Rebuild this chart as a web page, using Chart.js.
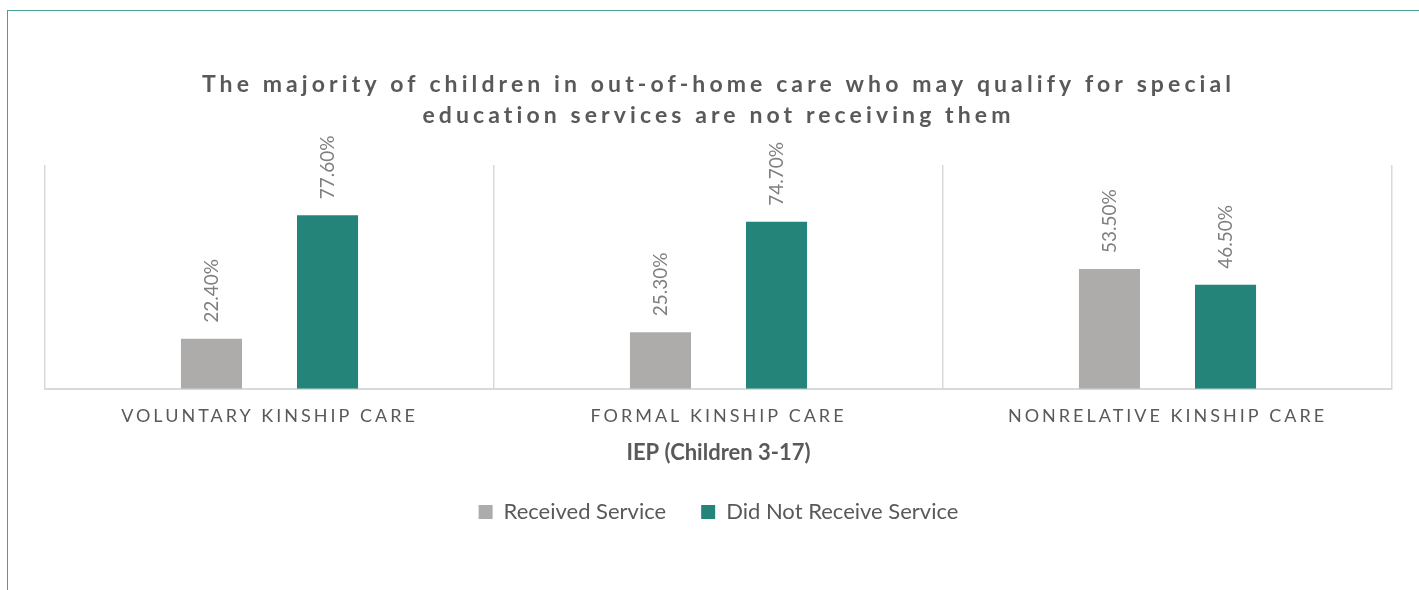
<!DOCTYPE html>
<html>
<head>
<meta charset="utf-8">
<title>IEP (Children 3-17)</title>
<script src="https://cdn.jsdelivr.net/npm/chart.js@4.4.1/dist/chart.umd.min.js"></script>
<style>
  html, body { margin: 0; padding: 0; background: #fff; overflow: hidden; }
  #frame {
    position: absolute; left: 7px; top: 10px; right: -20px; bottom: -20px;
    border-left: 1px solid #45a095; border-top: 1px solid #45a095;
  }
  #salesChart { position: absolute; left: 0; top: 0; }
</style>
</head>
<body>
<div id="frame"></div>
<canvas id="salesChart" width="1419" height="590"></canvas>
<script>
// categories and series
var categories = ['VOLUNTARY KINSHIP CARE', 'FORMAL KINSHIP CARE', 'NONRELATIVE KINSHIP CARE'];
var receivedService = [22.4, 25.3, 53.5];
var didNotReceive = [77.6, 74.7, 46.5];

Chart.defaults.font.family = 'Lato, "Open Sans", sans-serif';
Chart.defaults.color = '#595959';

// Excel-style spaced lettering for the title and the category labels
var letterSpacing = {
    id: 'letterSpacing',
    beforeDraw: function (chart) {
        if (chart.$spaced) return;
        chart.$spaced = true;
        var ctx = chart.ctx;
        var wrap = function (obj, name, px) {
            var fn = obj[name];
            obj[name] = function () {
                ctx.save();
                ctx.letterSpacing = px;
                fn.apply(this, arguments);
                ctx.restore();
            };
        };
        wrap(chart.titleBlock, 'draw', '4.1px');
        wrap(chart.scales.x, 'drawLabels', '3px');
    }
};

// rotated value labels above each bar
var valueLabels = {
    id: 'valueLabels',
    afterDatasetsDraw: function (chart) {
        var ctx = chart.ctx;
        ctx.save();
        ctx.font = '19px Lato, "Open Sans", sans-serif';
        ctx.fillStyle = '#7F7F7F';
        ctx.textAlign = 'left';
        ctx.textBaseline = 'middle';
        chart.data.datasets.forEach(function (ds, i) {
            chart.getDatasetMeta(i).data.forEach(function (bar, j) {
                ctx.save();
                ctx.translate(bar.x, bar.y - 16);
                ctx.rotate(-Math.PI / 2);
                ctx.fillText(ds.data[j].toFixed(2) + '%', 0, 0);
                ctx.restore();
            });
        });
        ctx.restore();
    }
};

var canvas = document.getElementById('salesChart');
var ctx = canvas.getContext('2d');
window.salesChartInstance = new Chart(ctx, {
    type: 'bar',
    data: {
        labels: categories,
        datasets: [{
            label: 'Received Service',
            data: receivedService,
            backgroundColor: '#ADACAB'
        }, {
            label: 'Did Not Receive Service',
            data: didNotReceive,
            backgroundColor: '#25847A'
        }]
    },
    options: {
        responsive: false,
        animation: false,
        categoryPercentage: 0.517,
        barPercentage: 0.526,
        layout: { padding: { left: 45, right: 27, top: 0, bottom: 57 } },
        plugins: {
            title: {
                display: true,
                text: ['The majority of children in out-of-home care who may qualify for special',
                       'education services are not receiving them'],
                color: '#595959',
                font: { size: 23, weight: 'bold', lineHeight: 1.35 },
                padding: { top: 69.5, bottom: 33.5 }
            },
            legend: {
                position: 'bottom',
                labels: {
                    boxWidth: 14,
                    boxHeight: 14,
                    padding: 35,
                    color: '#595959',
                    font: { size: 22 }
                }
            },
            tooltip: { enabled: false }
        },
        scales: {
            x: {
                grid: { color: '#D9D9D9', lineWidth: 1.5, drawTicks: false },
                border: { color: '#D9D9D9', width: 2 },
                ticks: { color: '#595959', font: { size: 18 }, padding: 17 },
                title: {
                    display: true,
                    text: 'IEP (Children 3-17)',
                    color: '#595959',
                    font: { size: 22, weight: 'bold', lineHeight: 1.2 },
                    padding: { top: -4.8, bottom: 0 }
                }
            },
            y: { display: false, min: 0, max: 100 }
        }
    },
    plugins: [letterSpacing, valueLabels]
});
</script>
</body>
</html>
